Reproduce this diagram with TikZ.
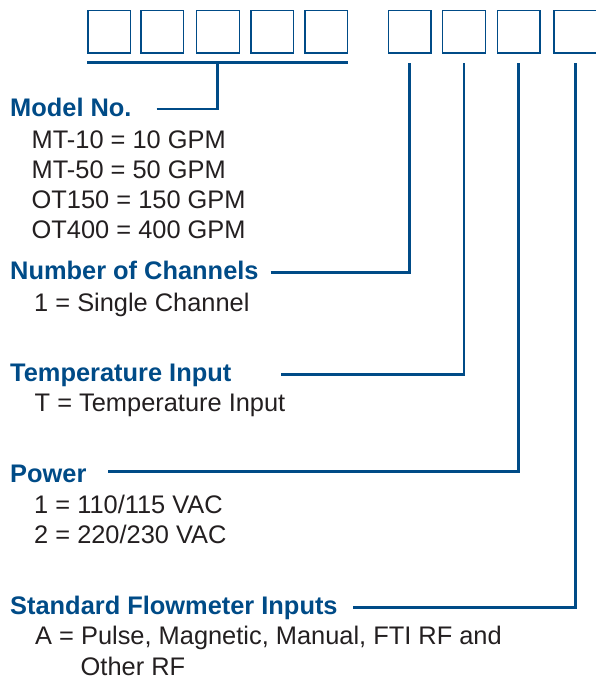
\documentclass[tikz,border=0pt]{standalone}
\usepackage{fontspec}
\setmainfont{Liberation Sans}
\usetikzlibrary{positioning,calc}
\definecolor{CodeBlue}{RGB}{0,75,135}
\definecolor{Ink}{RGB}{35,31,32}
\tikzset{
  digit/.style={rectangle,draw=CodeBlue,line width=1.4pt,fill=white,
                minimum width=42.5pt,minimum height=42.3pt,inner sep=0pt,
                anchor=north west},
  head/.style={font=\fontsize{25.4}{30}\selectfont\bfseries,text=CodeBlue,
               inner sep=0pt,anchor=base west},
  item/.style={font=\fontsize{25.4}{30}\selectfont,text=Ink,
               inner sep=0pt,anchor=base west},
  conn/.style={draw=CodeBlue,line width=2.6pt},
}

\begin{document}
\begin{tikzpicture}[x=1pt,y=-1pt]
  \useasboundingbox (0,0) rectangle (595,679);
  % code boxes
  \foreach \x [count=\i] in {87.3,140.3,196,250.3,304.3,387.7,442,496.7,553.3}
    \node[digit] (b\i) at (\x,10) {};
  \coordinate (ul) at ([yshift=-8.7pt]b1.south west);
  \coordinate (ur) at ([yshift=-8.7pt]b5.south east);
  \draw[conn] (ul) -- (ur);

  % model
  \node[head] (model) at (10,116.7) {Model No.};
  \foreach \t [count=\i] in {MT-10 = 10 GPM,MT-50 = 50 GPM,OT150 = 150 GPM,OT400 = 400 GPM}
    \node[item] (model\i) at (31.5,{118.3+30*\i}) {\t};
  \coordinate (mc) at (156.7,109);
  \draw[conn] (mc) -| ($(ul)!0.5!(ur)$);

  % channels
  \node[head] (chan) at (10,279.7) {Number of Channels};
  \node[item] (chan1) at (34,311) {1 = Single Channel};
  \coordinate (cc) at (270.6,272.3);
  \draw[conn] (cc) -| ([yshift=-9.4pt]b6.south);

  % temperature
  \node[head] (temp) at (10,381.7) {Temperature Input};
  \node[item] (temp1) at (34.5,411.7) {T = Temperature Input};
  \coordinate (tc) at (281,374.7);
  \draw[conn] (tc) -| ([yshift=-9.4pt]b7.south);

  % power
  \node[head] (power) at (10,482.7) {Power};
  \node[item] (power1) at (34,513.3) {1 = 110/115 VAC};
  \node[item] (power2) at (34,543.3) {2 = 220/230 VAC};
  \coordinate (pc) at (108.3,471.5);
  \draw[conn] (pc) -| ([yshift=-9.4pt]b8.south);

  % flowmeter inputs
  \node[head] (flow) at (10,614) {Standard Flowmeter Inputs};
  \node[item] (flow1) at (35,644) {A = Pulse, Magnetic, Manual, FTI RF and};
  \node[item] (flow2) at (80.5,675) {Other RF};
  \coordinate (fc) at (353,607.7);
  \draw[conn] (fc) -| ([yshift=-9.4pt]b9.south);
\end{tikzpicture}
\end{document}
